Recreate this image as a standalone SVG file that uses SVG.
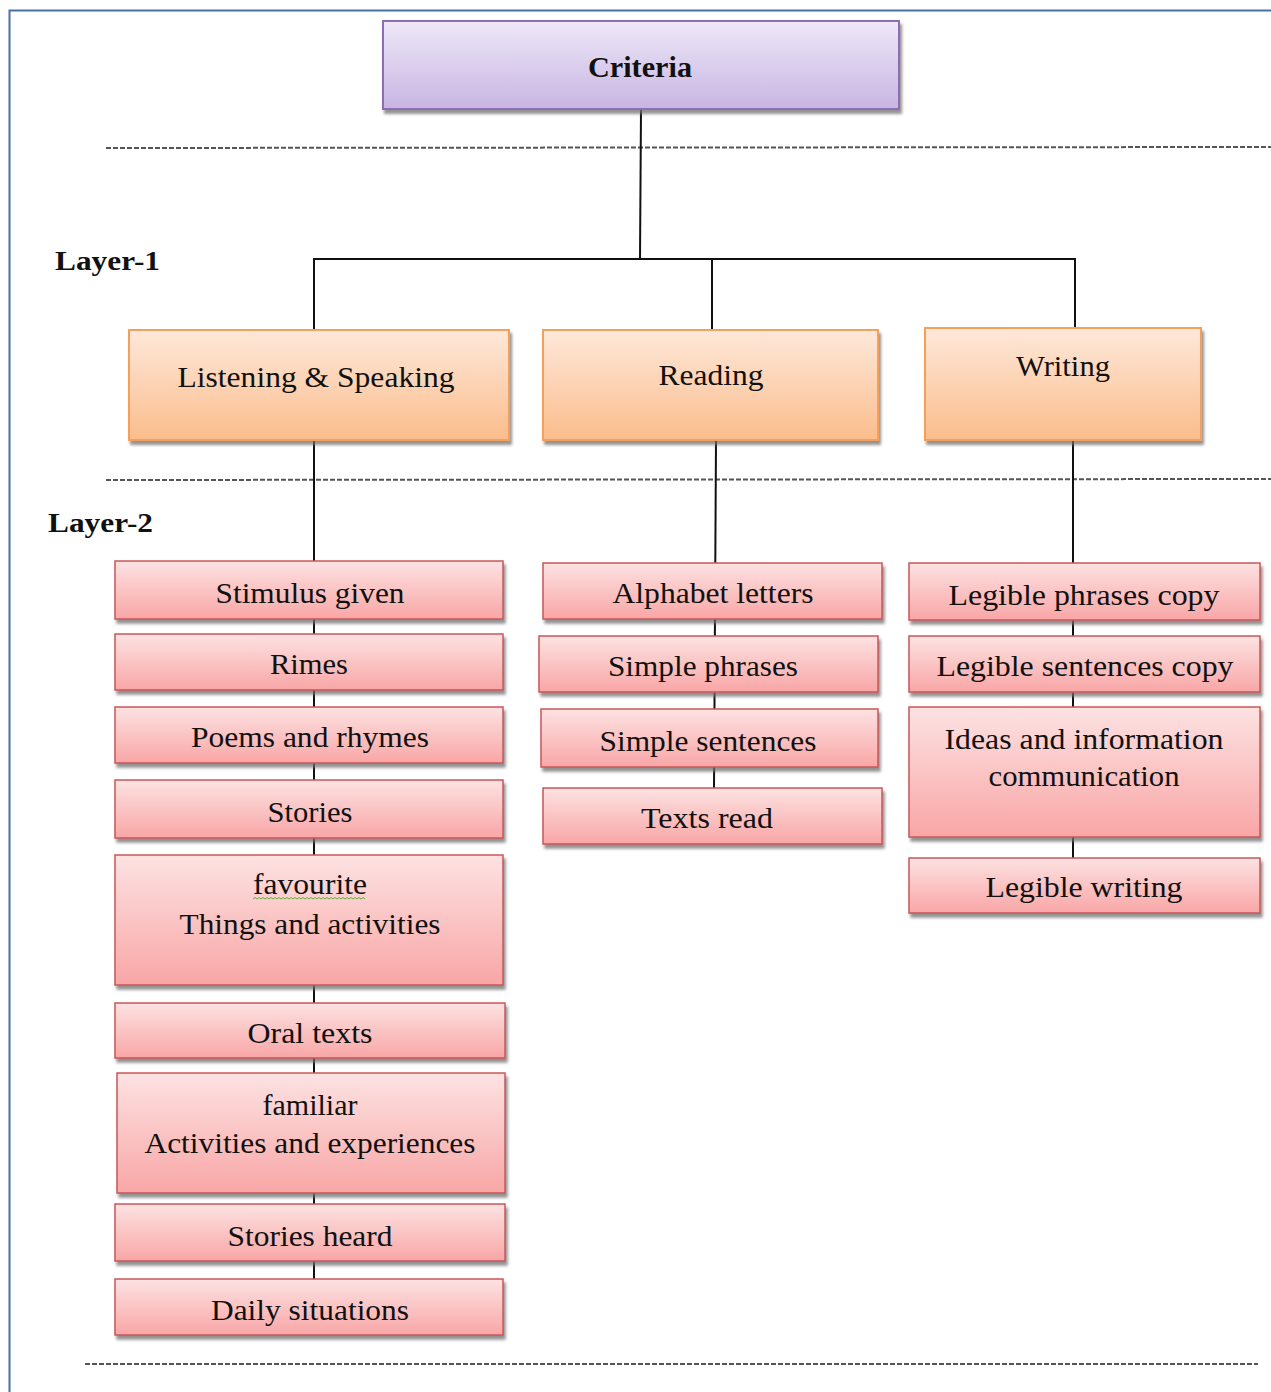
<svg xmlns="http://www.w3.org/2000/svg" width="1271" height="1392" viewBox="0 0 1271 1392">
<defs>
<linearGradient id="gPurple" x1="0" y1="0" x2="0" y2="1"><stop offset="0" stop-color="#eee8f8"/><stop offset="1" stop-color="#c8b5e2"/></linearGradient>
<linearGradient id="gOrange" x1="0" y1="0" x2="0" y2="1"><stop offset="0" stop-color="#fee8da"/><stop offset="1" stop-color="#fbbd8c"/></linearGradient>
<linearGradient id="gRed" x1="0" y1="0" x2="0" y2="1"><stop offset="0" stop-color="#fde2e2"/><stop offset="1" stop-color="#f9a6a6"/></linearGradient>
<filter id="sh" x="-5%" y="-10%" width="115%" height="130%"><feDropShadow dx="2" dy="4" stdDeviation="1.5" flood-color="#6e6e6e" flood-opacity="0.75"/></filter>
</defs>
<style>
.purple{fill:url(#gPurple);stroke:#8e6db5;stroke-width:2}
.orange{fill:url(#gOrange);stroke:#f5a05a;stroke-width:2}
.red{fill:url(#gRed);stroke:#c9575a;stroke-width:1.5}
.t{font-family:"Liberation Serif","Times New Roman",serif;font-size:29px;fill:#111;text-anchor:middle}
.b{font-weight:bold}
.lay{font-family:"Liberation Serif","Times New Roman",serif;font-size:28px;font-weight:bold;fill:#111}
.dash{stroke:#555;stroke-width:2;stroke-dasharray:5 2;fill:none}
.conn line{stroke:#111;stroke-width:2}
</style>
<rect width="1271" height="1392" fill="#fff"/>
<path d="M9.5 1392 V10.5 H1271" fill="none" stroke="#4d6ea5" stroke-width="2"/>
<line class="dash" x1="106" y1="148" x2="1271" y2="147"/>
<line class="dash" x1="106" y1="480" x2="1271" y2="479"/>
<line class="dash" x1="85" y1="1364" x2="1258" y2="1364"/>
<text class="lay" x="55" y="270" textLength="105" lengthAdjust="spacingAndGlyphs">Layer-1</text>
<text class="lay" x="48" y="532" textLength="105" lengthAdjust="spacingAndGlyphs">Layer-2</text>
<g id="connectors" class="conn">
<line x1="641" y1="109" x2="640" y2="260"/>
<line x1="314" y1="259" x2="1076" y2="259"/>
<line x1="314" y1="258" x2="314" y2="331"/>
<line x1="712" y1="258" x2="712" y2="331"/>
<line x1="1075" y1="258" x2="1075" y2="331"/>
<line x1="314" y1="440" x2="314" y2="1280"/>
<line x1="716" y1="440" x2="714" y2="789"/>
<line x1="1073" y1="440" x2="1073" y2="859"/>
</g>
<g id="criteria"><rect class="purple" x="383" y="21" width="516" height="88" filter="url(#sh)"/><text class="t b" x="640" y="77" textLength="104" lengthAdjust="spacingAndGlyphs">Criteria</text></g>
<g id="listening"><rect class="orange" x="129" y="330" width="380" height="110" filter="url(#sh)"/><text class="t" x="316" y="387" textLength="277" lengthAdjust="spacingAndGlyphs">Listening  &amp; Speaking</text></g>
<g id="reading"><rect class="orange" x="543" y="330" width="335" height="110" filter="url(#sh)"/><text class="t" x="711" y="385" textLength="105" lengthAdjust="spacingAndGlyphs">Reading</text></g>
<g id="writing"><rect class="orange" x="925" y="328" width="276" height="112" filter="url(#sh)"/><text class="t" x="1063" y="376" textLength="94" lengthAdjust="spacingAndGlyphs">Writing</text></g>
<g id="stimulus"><rect class="red" x="115" y="561" width="388" height="58" filter="url(#sh)"/><text class="t" x="310" y="603" textLength="189" lengthAdjust="spacingAndGlyphs">Stimulus  given</text></g>
<g id="rimes"><rect class="red" x="115" y="634" width="388" height="56" filter="url(#sh)"/><text class="t" x="309" y="674" textLength="78" lengthAdjust="spacingAndGlyphs">Rimes</text></g>
<g id="poems"><rect class="red" x="115" y="707" width="388" height="56" filter="url(#sh)"/><text class="t" x="310" y="747" textLength="238" lengthAdjust="spacingAndGlyphs">Poems and rhymes</text></g>
<g id="stories"><rect class="red" x="115" y="780" width="388" height="58" filter="url(#sh)"/><text class="t" x="310" y="822" textLength="85" lengthAdjust="spacingAndGlyphs">Stories</text></g>
<g id="favourite"><rect class="red" x="115" y="855" width="388" height="130" filter="url(#sh)"/><text class="t" x="310" y="894" textLength="114" lengthAdjust="spacingAndGlyphs">favourite</text><path d="M253 899 l2 -1.5 l2 1.5 l2 -1.5 l2 1.5 l2 -1.5 l2 1.5 l2 -1.5 l2 1.5 l2 -1.5 l2 1.5 l2 -1.5 l2 1.5 l2 -1.5 l2 1.5 l2 -1.5 l2 1.5 l2 -1.5 l2 1.5 l2 -1.5 l2 1.5 l2 -1.5 l2 1.5 l2 -1.5 l2 1.5 l2 -1.5 l2 1.5 l2 -1.5 l2 1.5 l2 -1.5 l2 1.5 l2 -1.5 l2 1.5 l2 -1.5 l2 1.5 l2 -1.5 l2 1.5 l2 -1.5 l2 1.5 l2 -1.5 l2 1.5 l2 -1.5 l2 1.5 l2 -1.5 l2 1.5 l2 -1.5 l2 1.5 l2 -1.5 l2 1.5 l2 -1.5 l2 1.5 l2 -1.5 l2 1.5 l2 -1.5 l2 1.5 l2 -1.5 l2 1.5" fill="none" stroke="#5cad3a" stroke-width="1"/><text class="t" x="310" y="934" textLength="261" lengthAdjust="spacingAndGlyphs">Things  and activities</text></g>
<g id="oral"><rect class="red" x="115" y="1003" width="390" height="55" filter="url(#sh)"/><text class="t" x="310" y="1043" textLength="125" lengthAdjust="spacingAndGlyphs">Oral texts</text></g>
<g id="familiar"><rect class="red" x="117" y="1073" width="388" height="120" filter="url(#sh)"/><text class="t" x="310" y="1115" textLength="95" lengthAdjust="spacingAndGlyphs">familiar</text><text class="t" x="310" y="1153" textLength="331" lengthAdjust="spacingAndGlyphs">Activities and experiences</text></g>
<g id="storiesheard"><rect class="red" x="115" y="1204" width="390" height="57" filter="url(#sh)"/><text class="t" x="310" y="1246" textLength="165" lengthAdjust="spacingAndGlyphs">Stories heard</text></g>
<g id="daily"><rect class="red" x="115" y="1279" width="388" height="56" filter="url(#sh)"/><text class="t" x="310" y="1320" textLength="198" lengthAdjust="spacingAndGlyphs">Daily situations</text></g>
<g id="alphabet"><rect class="red" x="543" y="563" width="339" height="56" filter="url(#sh)"/><text class="t" x="713" y="603" textLength="201" lengthAdjust="spacingAndGlyphs">Alphabet letters</text></g>
<g id="phrases"><rect class="red" x="539" y="636" width="339" height="56" filter="url(#sh)"/><text class="t" x="703" y="676" textLength="190" lengthAdjust="spacingAndGlyphs">Simple  phrases</text></g>
<g id="sentences"><rect class="red" x="541" y="709" width="337" height="58" filter="url(#sh)"/><text class="t" x="708" y="751" textLength="217" lengthAdjust="spacingAndGlyphs">Simple  sentences</text></g>
<g id="textsread"><rect class="red" x="543" y="788" width="339" height="56" filter="url(#sh)"/><text class="t" x="707" y="828" textLength="132" lengthAdjust="spacingAndGlyphs">Texts read</text></g>
<g id="legphrases"><rect class="red" x="909" y="563" width="351" height="57" filter="url(#sh)"/><text class="t" x="1084" y="605" textLength="271" lengthAdjust="spacingAndGlyphs">Legible  phrases  copy</text></g>
<g id="legsentences"><rect class="red" x="909" y="636" width="351" height="56" filter="url(#sh)"/><text class="t" x="1085" y="676" textLength="297" lengthAdjust="spacingAndGlyphs">Legible  sentences  copy</text></g>
<g id="ideas"><rect class="red" x="909" y="707" width="351" height="130" filter="url(#sh)"/><text class="t" x="1084" y="749" textLength="279" lengthAdjust="spacingAndGlyphs">Ideas and information</text><text class="t" x="1084" y="786" textLength="191" lengthAdjust="spacingAndGlyphs">communication</text></g>
<g id="legwriting"><rect class="red" x="909" y="858" width="351" height="55" filter="url(#sh)"/><text class="t" x="1084" y="897" textLength="197" lengthAdjust="spacingAndGlyphs">Legible  writing</text></g>
</svg>
